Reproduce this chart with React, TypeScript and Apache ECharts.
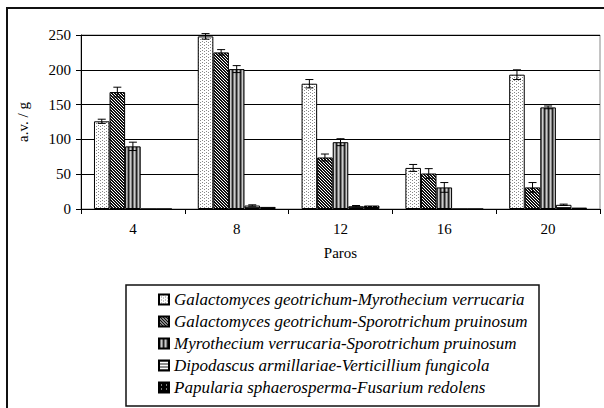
import React, { useEffect, useRef } from "react";
import * as echarts from "echarts";

const categories = ["4", "8", "12", "16", "20"];
const seriesNames = [
  "Galactomyces geotrichum-Myrothecium verrucaria",
  "Galactomyces geotrichum-Sporotrichum pruinosum",
  "Myrothecium verrucaria-Sporotrichum pruinosum",
  "Dipodascus armillariae-Verticillium fungicola",
  "Papularia sphaerosperma-Fusarium redolens",
];
const gmMv = [126, 248, 180, 59, 193];
const gmSp = [168, 225, 74, 51, 31];
const mvSp = [90, 201, 96, 31, 146];
const daVf = [0, 5, 4, 0, 6];
const psFr = [0, 3, 5, 0, 2];
const errGmMv = [3, 4, 6, 5, 7];
const errGmSp = [7, 4, 5, 7, 7];
const errMvSp = [6, 5, 5, 7, 2];
const errDaVf = [0, 1, 1, 0, 1];
const errPsFr = [0, 0, 0, 0, 0];
const yTicks = [0, 50, 100, 150, 200, 250];

const FONT = "Liberation Serif";

function makePattern(w: number, h: number, bg: string, draw: (ctx: CanvasRenderingContext2D) => void) {
  const c = document.createElement("canvas");
  c.width = w;
  c.height = h;
  const ctx = c.getContext("2d")!;
  ctx.fillStyle = bg;
  ctx.fillRect(0, 0, w, h);
  draw(ctx);
  return { image: c.toDataURL(), repeat: "repeat", imageWidth: w, imageHeight: h } as any;
}

export default function App() {
  const ref = useRef<HTMLDivElement>(null);
  useEffect(() => {
    if (!ref.current) return;
    const chart = echarts.init(ref.current, undefined, { renderer: "svg" });

    const p1 = makePattern(4, 3, "#ffffff", (ctx) => {
      ctx.fillStyle = "#888";
      ctx.fillRect(0, 0, 1, 1);
      ctx.fillRect(2, 2, 1, 1);
    });
    const p2 = makePattern(3, 3, "#ffffff", (ctx) => {
      ctx.fillStyle = "#111";
      for (let y = 0; y < 3; y++) {
        for (let x = 0; x < 3; x++) {
          if (((x - y + 6) % 3) < 2) ctx.fillRect(x, y, 1, 1);
        }
      }
    });
    const p3 = makePattern(4, 1, "#ffffff", (ctx) => {
      ctx.fillStyle = "#222";
      ctx.fillRect(0, 0, 1, 1);
      ctx.fillStyle = "#777";
      ctx.fillRect(1, 0, 1, 1);
      ctx.fillStyle = "#ccc";
      ctx.fillRect(2, 0, 1, 1);
      ctx.fillStyle = "#888";
      ctx.fillRect(3, 0, 1, 1);
    });
    const p4 = makePattern(1, 3, "#ffffff", (ctx) => {
      ctx.fillStyle = "#222";
      ctx.fillRect(0, 0, 1, 1);
    });
    const p5 = makePattern(5, 4, "#000000", (ctx) => {
      ctx.fillStyle = "#ffffff";
      ctx.fillRect(2, 2, 1, 1);
    });
    const patterns = [p1, p2, p3, p4, p5];
    const values = [gmMv, gmSp, mvSp, daVf, psFr];
    const errs = [errGmMv, errGmSp, errMvSp, errDaVf, errPsFr];

    const barSeries = values.map((vals, i) => ({
      name: seriesNames[i],
      type: "bar",
      data: vals,
      barGap: "0%",
      barCategoryGap: "25%",
      itemStyle: { color: patterns[i], borderColor: "#000", borderWidth: 1 },
      z: 2,
    }));

    const errData: number[][] = [];
    errs.forEach((arr, si) => {
      arr.forEach((e, ci) => {
        if (e > 0) errData.push([ci, values[si][ci], e, si]);
      });
    });

    const errSeries = {
      type: "custom",
      name: "err",
      z: 5,
      encode: { x: 0, y: 1 },
      data: errData,
      renderItem: (params: any, api: any) => {
        const ci = api.value(0);
        const v = api.value(1);
        const e = api.value(2);
        const si = api.value(3);
        const catW = api.size([1, 0])[0];
        const bw = (catW * 0.75) / 5;
        const base = api.coord([ci, v]);
        const cx = base[0] + (si - 2) * bw;
        const yTop = api.coord([ci, v + e])[1];
        const yBot = api.coord([ci, v - e])[1];
        const cap = 4;
        const style = { stroke: "#000", lineWidth: 1 };
        return {
          type: "group",
          children: [
            { type: "line", shape: { x1: cx, y1: yTop, x2: cx, y2: yBot }, style },
            { type: "line", shape: { x1: cx - cap, y1: yTop, x2: cx + cap, y2: yTop }, style },
            { type: "line", shape: { x1: cx - cap, y1: yBot, x2: cx + cap, y2: yBot }, style },
          ],
        };
      },
    };

    chart.setOption({
      animation: false,
      backgroundColor: "#fff",
      grid: {
        left: 81,
        right: 4,
        top: 35,
        bottom: 199,
        show: true,
        borderColor: "#888",
        borderWidth: 1,
      },
      xAxis: {
        type: "category",
        data: categories,
        name: "Paros",
        nameLocation: "middle",
        nameGap: 36,
        nameTextStyle: { fontFamily: FONT, fontSize: 15, color: "#000" },
        axisLine: { lineStyle: { color: "#000", width: 1 } },
        axisTick: { show: true, length: 5, lineStyle: { color: "#000" } },
        axisLabel: { fontFamily: FONT, fontSize: 15, color: "#000", margin: 12 },
      },
      yAxis: {
        type: "value",
        min: 0,
        max: yTicks[yTicks.length - 1],
        interval: 50,
        name: "a.v. / g",
        nameLocation: "middle",
        nameRotate: 90,
        nameGap: 51,
        nameTextStyle: { fontFamily: FONT, fontSize: 15, color: "#000" },
        axisLine: { show: true, lineStyle: { color: "#000", width: 1 } },
        axisTick: { show: true, length: 5, lineStyle: { color: "#000" } },
        axisLabel: { fontFamily: FONT, fontSize: 15, color: "#000", margin: 10 },
        splitLine: { show: true, lineStyle: { color: "#000", width: 1 } },
      },
      legend: {
        data: seriesNames,
        orient: "vertical",
        left: 158,
        top: 291,
        height: 200,
        padding: 0,
        itemWidth: 10,
        itemHeight: 10,
        itemGap: 5,
        icon: "rect",
        textStyle: { fontFamily: FONT, fontSize: 17, fontStyle: "italic", color: "#000", lineHeight: 15 },
      },
      graphic: [
        {
          type: "rect",
          shape: { x: 7, y: 8, width: 800, height: 600 },
          style: { fill: "none", stroke: "#111", lineWidth: 2 },
          silent: true,
        },
        {
          type: "rect",
          shape: { x: 126, y: 285, width: 413, height: 121 },
          style: { fill: "none", stroke: "#111", lineWidth: 1.5 },
          silent: true,
        },
      ],
      series: [...barSeries, errSeries],
    });
    return () => chart.dispose();
  }, []);
  return (
    <div
      ref={ref}
      style={{ position: "absolute", left: 0, top: 0, width: 604, height: 408 }}
    />
  );
}
